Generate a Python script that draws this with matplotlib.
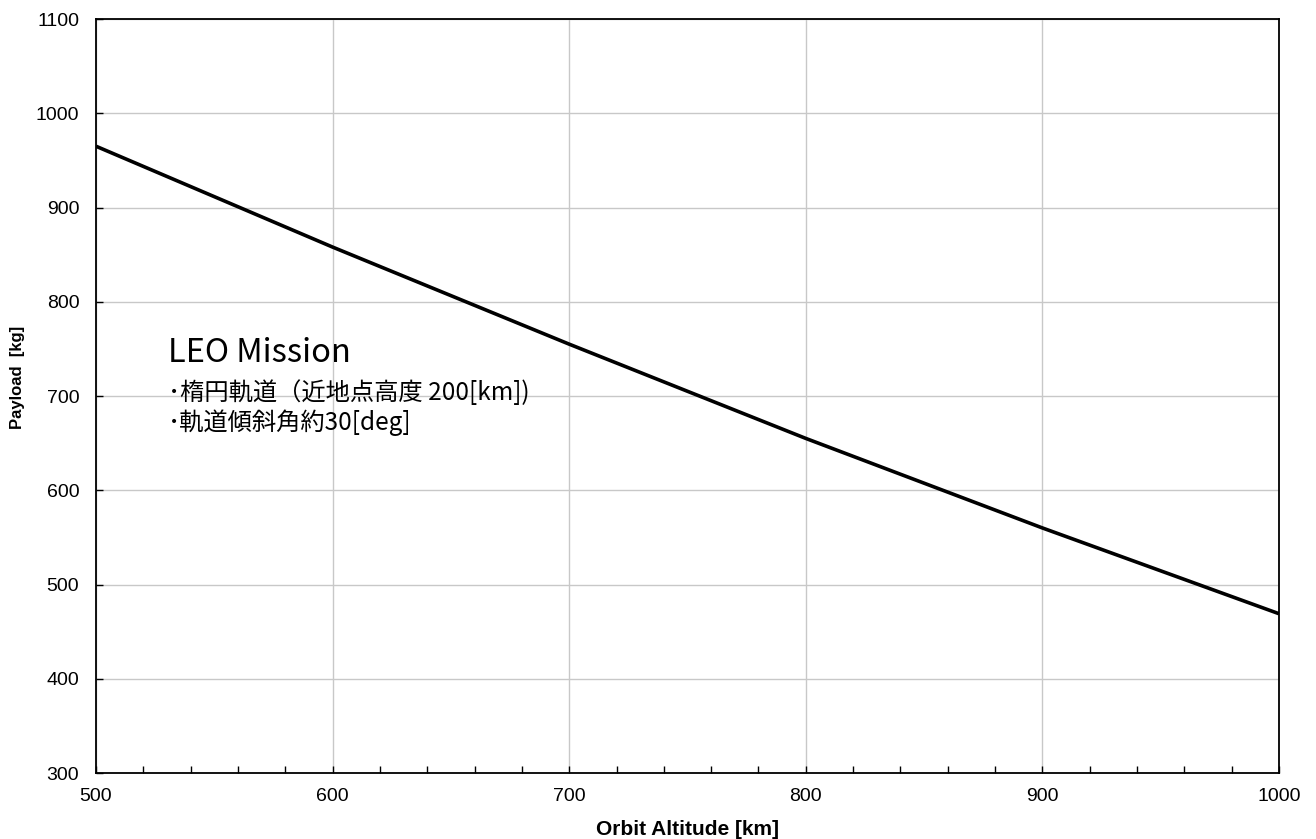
import numpy as np
import matplotlib
matplotlib.use("Agg")
import matplotlib.pyplot as plt
from matplotlib.ticker import MultipleLocator

# values
altitude = [500, 600, 700, 800, 900, 1000]
payload = [965, 858, 755, 655, 560, 469]

title_text = "LEO Mission"
note_lines = ["･楕円軌道（近地点高度 200[km])", "･軌道傾斜角約30[deg]"]

plt.rcParams['font.family'] = ['Liberation Sans', 'DejaVu Sans']

fig = plt.figure(figsize=(13.16, 8.39), dpi=100)
ax = fig.add_axes([96 / 1316, 66 / 839, 1183 / 1316, 754 / 839])

ax.plot(altitude, payload, color='black', linewidth=2.6, solid_capstyle='butt')

ax.set_xlim(500, 1000)
ax.set_ylim(300, 1100)
ax.xaxis.set_major_locator(MultipleLocator(100))
ax.xaxis.set_minor_locator(MultipleLocator(20))
ax.yaxis.set_major_locator(MultipleLocator(100))
ax.grid(True, which='major', color='#c8c8c8', linewidth=1.0)
ax.set_axisbelow(True)
ax.tick_params(axis='both', which='major', direction='in', length=5, width=1,
               labelsize=14)
ax.tick_params(axis='y', which='major', pad=12)
ax.tick_params(axis='x', which='major', pad=11)
ax.tick_params(axis='x', which='minor', direction='in', length=5, width=1)
for s in ax.spines.values():
    s.set_linewidth(1.3)

ax.set_xlabel("Orbit Altitude [km]", fontsize=15, fontweight='bold')
ax.xaxis.set_label_coords(0.5, -0.062)
ax.set_ylabel("Payload  [kg]", fontsize=12, fontweight='bold')
ax.yaxis.set_label_coords(-0.060, 0.525)

jp = ['Noto Sans CJK JP', 'DejaVu Sans']
ax.text(0.0608, 0.545, title_text, transform=ax.transAxes,
        family=jp, fontsize=23.5, va='baseline')
ax.text(0.0608, 0.4947, note_lines[0], transform=ax.transAxes, family=jp,
        fontsize=17.5, va='baseline')
ax.text(0.0608, 0.4549, note_lines[1], transform=ax.transAxes, family=jp,
        fontsize=17.5, va='baseline')

fig.savefig("out.png", dpi=100)
